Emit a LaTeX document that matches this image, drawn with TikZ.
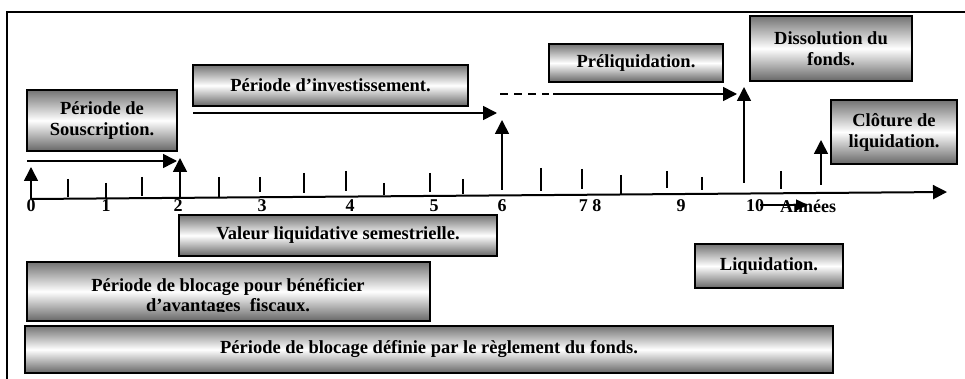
\documentclass[tikz,border=0pt]{standalone}
\usepackage{fontspec}
\setmainfont{Liberation Serif}
\usetikzlibrary{arrows.meta}
\tikzset{
  boite/.style={draw=black, line width=2pt, top color=black!55, bottom color=black!60, middle color=white,
    align=center, font=\bfseries\fontsize{18.5}{21}\selectfont, inner sep=0pt},
  texte/.style={font=\bfseries\fontsize{18.5}{21}\selectfont, inner sep=0pt},
  fleche/.style={line width=1.6pt, -{Triangle[length=14pt,width=14pt]}},
  petitefleche/.style={line width=1.4pt, -{Triangle[length=12pt,width=11pt]}},
  graduation/.style={line width=1.6pt},
  annee/.style={font=\bfseries\fontsize{18}{18}\selectfont, inner sep=0pt}
}
\begin{document}
\begin{tikzpicture}[x=1pt,y=-1pt]
  \useasboundingbox (0,0) rectangle (965,379);
  \draw[line width=1.5pt] (7,379) -- (7,12) -- (965,12);

  \node[boite, minimum width=150pt, minimum height=61pt] (souscription) at (102,120.5) {Période de\\Souscription.};
  \node[boite, minimum width=275pt, minimum height=41pt] (invest) at (330.5,85.5) {Période d’investissement.};
  \node[boite, minimum width=174pt, minimum height=38pt] (preliq) at (636,63) {Préliquidation.};
  \node[boite, minimum width=162pt, minimum height=65pt] (dissol) at (831,48.5) {Dissolution du\\fonds.};
  \node[boite, minimum width=126pt, minimum height=64pt] (cloture) at (894,132) {Clôture de\\liquidation.};
  \node[boite, minimum width=318pt, minimum height=41pt] (valeur) at (338,235.5) {Valeur liquidative semestrielle.};
  \node[boite, minimum width=148pt, minimum height=44pt] (liquid) at (769,266) {Liquidation.};
  \node[boite, minimum width=808pt, minimum height=47pt] (fonds) at (429,349.5) {Période de blocage définie par le règlement du fonds.};
  \node[boite, minimum width=403pt, minimum height=59pt] (fiscal) at (228.5,291.5) {};
  \begin{scope}
    \clip (27,262) rectangle (430,311);
    \node[texte, anchor=base] (fiscal1) at (228,291) {Période de blocage pour bénéficier};
    \node[texte, anchor=base] (fiscal2) at (228,311) {d’avantages~ fiscaux.};
  \end{scope}

  \coordinate (axeA) at (31,199);
  \coordinate (axeB) at (947,192);
  \draw[fleche, line width=2pt] (axeA) -- (axeB);

  \foreach \x/\h/\b in {68/179/197, 106/183/198, 142/177/196, 219/177/198, 260/177/192, 304/173/193,
      346/171/191, 384/183/195, 430/173/192, 463/179/194, 541/168/191, 582/169/189,
      621/175/194, 667/171/188, 702/177/190, 781/171/189}
    \draw[graduation] (\x,\h) -- (\x,\b);

  \foreach \x/\t [count=\i] in {31/0, 106/1, 178/2, 262/3, 350/4, 434/5, 502/6, 590/7 8, 681/9, 755/10}
    \node[annee] (an\i) at (\x,206) {\t};
  \node[annee] (annees) at (808,206) {Années};
  \coordinate (dix) at (760,205);
  \coordinate (dixfin) at (808,205);
  \draw[petitefleche] (dix) -- (dixfin);

  \coordinate (s0) at (31,199);   \coordinate (s0h) at (31,167);
  \coordinate (s2) at (180,197);  \coordinate (s2h) at (180,158);
  \coordinate (s6) at (502,190);  \coordinate (s6h) at (502,120);
  \coordinate (sd) at (744,183);  \coordinate (sdh) at (744,87);
  \coordinate (sc) at (821,185);  \coordinate (sch) at (821,140);
  \draw[fleche] (s0) -- (s0h);
  \draw[fleche] (s2) -- (s2h);
  \draw[fleche] (s6) -- (s6h);
  \draw[fleche] (sd) -- (sdh);
  \draw[fleche] (sc) -- (sch);

  \coordinate (p1) at (27,161);   \coordinate (p1f) at (177,161);
  \coordinate (p2) at (193,113);  \coordinate (p2f) at (497,113);
  \coordinate (p3) at (500,94);   \coordinate (p3m) at (549,94);
  \coordinate (p3n) at (553,94);  \coordinate (p3f) at (737,94);
  \draw[fleche] (p1) -- (p1f);
  \draw[fleche] (p2) -- (p2f);
  \draw[line width=1.6pt, dash pattern=on 8pt off 6pt] (p3) -- (p3m);
  \draw[fleche] (p3n) -- (p3f);
\end{tikzpicture}
\end{document}
